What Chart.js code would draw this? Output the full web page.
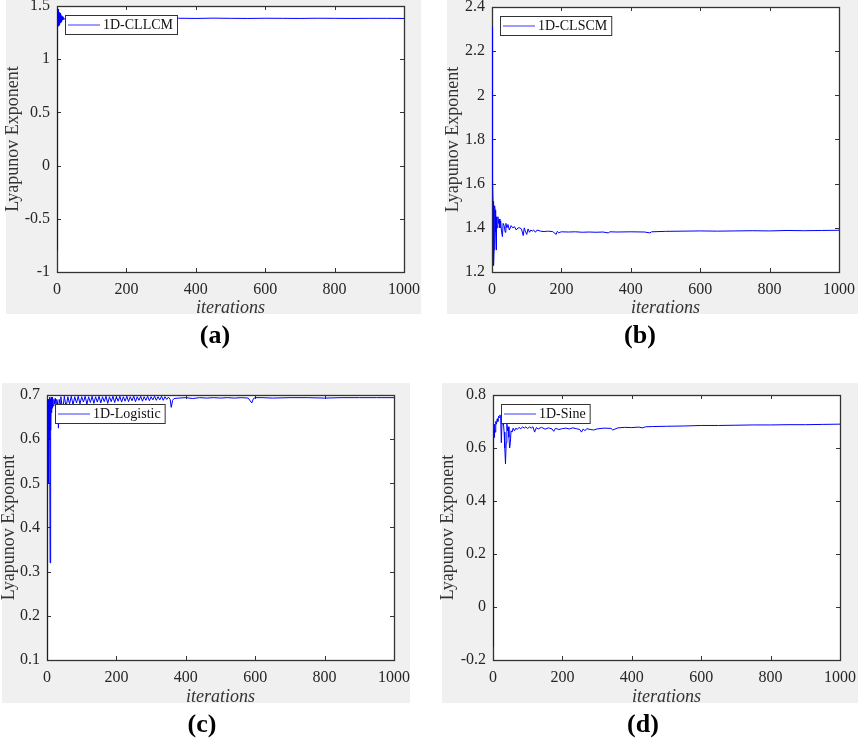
<!DOCTYPE html>
<html>
<head>
<meta charset="utf-8">
<script src="https://cdn.jsdelivr.net/npm/chart.js@4.4.0/dist/chart.umd.min.js"></script>
<style>
  body { margin: 0; background: #fff; width: 858px; height: 740px; position: relative; overflow: hidden; }
  .bg { position: absolute; background: #f0f0f0; }
  canvas { position: absolute; }
  .cap { position: absolute; font: bold 26px 'Liberation Serif', 'Times New Roman', serif; transform: translate(-50%, -50%); color: #000; }
</style>
</head>
<body>
<div class="bg" style="left:6px;top:0;width:415px;height:314px"></div>
<div class="bg" style="left:447px;top:0;width:411px;height:314px"></div>
<div class="bg" style="left:2px;top:383px;width:408px;height:320px"></div>
<div class="bg" style="left:442px;top:383px;width:416px;height:320px"></div>

<canvas id="ca" width="430" height="330" style="left:0;top:0"></canvas>
<canvas id="cb" width="428" height="330" style="left:430px;top:0"></canvas>
<canvas id="cc" width="430" height="330" style="left:0;top:380px"></canvas>
<canvas id="cd" width="428" height="330" style="left:430px;top:380px"></canvas>

<div class="cap" style="left:215px;top:335px">(a)</div>
<div class="cap" style="left:640px;top:335px">(b)</div>
<div class="cap" style="left:202px;top:724px">(c)</div>
<div class="cap" style="left:643px;top:724px">(d)</div>

<script>
// x ticks shared by all four panels
const iterTicks = [0, 200, 400, 600, 800, 1000];

// (a) 1D-CLLCM
const aIter = [0,1,2,3,4,5,6,7,8,9,10,11,12,13,14,15,17,19,22,25,30,40,60,100,200,350,400,450,500,550,600,650,700,750,800,850,900,950,1000];
const aLE = [-0.8,1.48,1.29,1.47,1.31,1.45,1.32,1.44,1.33,1.43,1.34,1.42,1.35,1.41,1.36,1.40,1.37,1.39,1.375,1.385,1.38,1.385,1.38,1.382,1.38,1.385,1.383,1.386,1.384,1.383,1.385,1.384,1.383,1.385,1.384,1.383,1.384,1.384,1.383];
const aTicks = [-1, -0.5, 0, 0.5, 1, 1.5];

// (b) 1D-CLSCM
const bIter = [0,1,2,3,4,5,6,7,8,9,10,11,12,13,15,17,19,21,23,25,27,30,32,35,38,40,43,46,50,55,60,65,70,75,80,85,90,93,96,100,104,108,112,116,120,125,130,140,150,160,175,185,188,192,200,220,240,260,280,300,320,335,340,360,400,440,455,460,500,550,600,650,700,750,800,850,900,950,1000];
const bLE = [2.31,2.0,1.62,1.52,1.25,1.23,1.30,1.35,1.50,1.48,1.42,1.38,1.30,1.45,1.40,1.45,1.42,1.44,1.40,1.43,1.39,1.36,1.42,1.41,1.38,1.42,1.40,1.415,1.39,1.41,1.40,1.405,1.39,1.40,1.40,1.395,1.365,1.40,1.385,1.37,1.395,1.38,1.39,1.385,1.39,1.38,1.39,1.385,1.383,1.385,1.383,1.37,1.384,1.378,1.382,1.381,1.382,1.38,1.381,1.38,1.381,1.377,1.382,1.381,1.382,1.381,1.377,1.382,1.384,1.385,1.386,1.385,1.386,1.387,1.386,1.388,1.387,1.388,1.389];
const bTicks = [1.2, 1.4, 1.6, 1.8, 2, 2.2, 2.4];

// (c) 1D-Logistic
const cIter = [0,1,2,3,4,5,6,7,8,9,10,11,12,13,14,15,16,18,20,22,24,26,28,30,33,35,38,
  40,45,50,55,60,65,70,75,80,85,90,95,100,105,110,115,120,125,130,135,140,145,150,155,160,165,170,175,180,185,190,195,
  200,205,210,215,220,225,230,235,240,245,250,255,260,265,270,275,280,285,290,295,300,305,310,315,320,325,330,335,340,345,350,
  355,358,362,366,380,400,420,440,460,480,500,520,540,560,580,590,595,600,620,650,700,750,800,850,900,950,1000];
const cLE = [0.1,0.69,0.58,0.69,0.5,0.69,0.6,0.695,0.65,0.32,0.69,0.62,0.695,0.66,0.69,0.67,0.695,0.675,0.69,0.68,0.693,0.675,0.69,0.685,0.625,0.69,0.68,
  0.696,0.664,0.697,0.672,0.696,0.68,0.697,0.678,0.696,0.682,0.697,0.68,0.696,0.684,0.697,0.679,0.696,0.683,0.697,0.681,0.696,0.684,0.697,0.682,0.696,0.685,0.697,0.681,0.696,0.685,0.697,0.683,
  0.696,0.686,0.697,0.684,0.696,0.686,0.697,0.685,0.696,0.687,0.697,0.685,0.696,0.688,0.697,0.686,0.696,0.688,0.697,0.687,0.696,0.689,0.697,0.688,0.696,0.689,0.697,0.688,0.696,0.69,0.695,
  0.69,0.672,0.688,0.692,0.693,0.694,0.692,0.694,0.693,0.694,0.693,0.694,0.693,0.694,0.693,0.682,0.692,0.694,0.694,0.693,0.694,0.694,0.693,0.694,0.694,0.694,0.694];
const cTicks = [0.1, 0.2, 0.3, 0.4, 0.5, 0.6, 0.7];

// (d) 1D-Sine
const dIter = [0,1,2,3,4,5,6,8,10,12,14,16,18,20,22,24,26,28,30,32,34,36,38,40,42,44,46,48,50,52,55,58,62,66,70,75,80,85,90,95,100,105,110,115,120,125,130,140,150,160,170,175,180,190,200,210,220,230,240,250,255,260,265,270,280,290,300,320,340,345,360,380,400,420,430,440,460,500,550,600,650,700,750,800,850,900,950,1000];
const dLE = [-0.15,0.58,0.63,0.67,0.64,0.69,0.66,0.70,0.69,0.71,0.70,0.72,0.715,0.725,0.72,0.62,0.70,0.69,0.695,0.66,0.60,0.54,0.62,0.69,0.665,0.68,0.64,0.60,0.62,0.665,0.66,0.675,0.665,0.675,0.67,0.678,0.672,0.68,0.675,0.68,0.673,0.68,0.675,0.68,0.66,0.677,0.672,0.678,0.671,0.676,0.672,0.663,0.674,0.67,0.673,0.675,0.672,0.676,0.673,0.67,0.66,0.672,0.665,0.673,0.67,0.668,0.672,0.675,0.674,0.668,0.676,0.678,0.677,0.679,0.676,0.68,0.681,0.682,0.683,0.685,0.685,0.686,0.687,0.687,0.688,0.688,0.689,0.69];
const dTicks = [-0.2, 0, 0.2, 0.4, 0.6, 0.8];

const FONT = "'Liberation Serif', 'Times New Roman', serif";

// canvas origin, plot rect (page px), axis-title centres
const panels = [
  { id: 'ca', label: '1D-CLLCM',    xs: aIter, ys: aLE, yt: aTicks, org: [0, 0],     plot: [57, 6, 404, 272],   yTitleX: 13,  xTitleY: 308 },
  { id: 'cb', label: '1D-CLSCM',    xs: bIter, ys: bLE, yt: bTicks, org: [430, 0],   plot: [492, 7, 839, 272],  yTitleX: 453, xTitleY: 308 },
  { id: 'cc', label: '1D-Logistic', xs: cIter, ys: cLE, yt: cTicks, org: [0, 380],   plot: [47, 395, 394, 660], yTitleX: 9,   xTitleY: 697 },
  { id: 'cd', label: '1D-Sine',     xs: dIter, ys: dLE, yt: dTicks, org: [430, 380], plot: [493, 395, 840, 660], yTitleX: 448, xTitleY: 697 }
];

const framePlugin = {
  id: 'frame',
  beforeDraw(chart) {
    const { ctx, chartArea: a } = chart;
    ctx.save();
    ctx.fillStyle = '#fff';
    ctx.fillRect(a.left, a.top, a.width, a.height);
    ctx.restore();
  },
  // box + inward ticks under the line, like the source figure
  beforeDatasetsDraw(chart) {
    const { ctx, chartArea: a, scales: { x, y } } = chart;
    ctx.save();
    ctx.strokeStyle = '#333';
    ctx.lineWidth = 1;
    ctx.beginPath();
    x.ticks.forEach(t => {
      const px = Math.round(x.getPixelForValue(t.value)) + 0.5;
      ctx.moveTo(px, a.bottom); ctx.lineTo(px, a.bottom - 4);
      ctx.moveTo(px, a.top); ctx.lineTo(px, a.top + 4);
    });
    y.ticks.forEach(t => {
      const py = Math.round(y.getPixelForValue(t.value)) + 0.5;
      ctx.moveTo(a.left, py); ctx.lineTo(a.left + 4, py);
      ctx.moveTo(a.right, py); ctx.lineTo(a.right - 4, py);
    });
    ctx.stroke();
    ctx.lineWidth = 1.3;
    ctx.strokeRect(a.left + 0.5, a.top + 0.5, a.width, a.height);
    ctx.restore();
  },
  afterDatasetsDraw(chart, args, opts) {
    const { ctx, chartArea: a } = chart;
    ctx.save();
    ctx.font = '14px ' + FONT;
    const tw = ctx.measureText(opts.label).width;
    const bx = Math.round(a.left) + 8, by = Math.round(a.top) + 9, bw = 38 + tw + 4, bh = 19;
    ctx.fillStyle = '#fff';
    ctx.fillRect(bx, by, bw, bh);
    ctx.lineWidth = 1;
    ctx.strokeStyle = '#333';
    ctx.strokeRect(bx + 0.5, by + 0.5, bw, bh);
    ctx.strokeStyle = '#3a3aff';
    ctx.beginPath();
    ctx.moveTo(bx + 3, by + bh / 2 + 0.5);
    ctx.lineTo(bx + 35, by + bh / 2 + 0.5);
    ctx.stroke();
    ctx.fillStyle = '#111';
    ctx.textBaseline = 'middle';
    ctx.fillText(opts.label, bx + 38, by + bh / 2 + 1);
    ctx.restore();
  }
};

panels.forEach(p => {
  const cv = document.getElementById(p.id);
  const [ox, oy] = p.org;
  const [l, t, r, b] = p.plot;
  const yW = l - ox, xH = oy + cv.height - b;
  new Chart(cv, {
    type: 'line',
    data: {
      datasets: [{
        label: p.label,
        data: p.xs.map((v, i) => ({ x: v, y: p.ys[i] })),
        borderColor: '#0000ff',
        borderWidth: 1,
        pointRadius: 0,
        tension: 0,
        fill: false
      }]
    },
    options: {
      responsive: false,
      animation: false,
      events: [],
      layout: { padding: { left: 0, top: t - oy, right: ox + cv.width - r, bottom: 0 } },
      plugins: {
        legend: { display: false },
        tooltip: { enabled: false },
        frame: { label: p.label }
      },
      scales: {
        x: {
          type: 'linear', min: 0, max: 1000,
          afterBuildTicks: s => { s.ticks = iterTicks.map(v => ({ value: v })); },
          afterFit: s => { s.height = xH; s.paddingLeft = 0; s.paddingRight = 0; },
          grid: { display: false, drawTicks: false, tickLength: 0 },
          border: { display: false },
          ticks: { color: '#262626', padding: 8, maxRotation: 0, autoSkip: false, font: { family: FONT, size: 16 }, callback: v => String(v) },
          title: {
            display: true, text: 'iterations', color: '#333',
            font: { family: FONT, size: 18, style: 'italic', lineHeight: 1 },
            padding: { top: 0, bottom: (oy + cv.height - p.xTitleY) - 9 }
          }
        },
        y: {
          type: 'linear', min: p.yt[0], max: p.yt[p.yt.length - 1],
          afterBuildTicks: s => { s.ticks = p.yt.map(v => ({ value: v })); },
          afterFit: s => { s.width = yW; s.paddingTop = 0; s.paddingBottom = 0; },
          grid: { display: false, drawTicks: false, tickLength: 0 },
          border: { display: false },
          ticks: { color: '#262626', padding: 7, autoSkip: false, font: { family: FONT, size: 16 }, callback: v => String(v) },
          title: {
            display: true, text: 'Lyapunov Exponent', color: '#333',
            font: { family: FONT, size: 18, lineHeight: 1 },
            padding: { top: (p.yTitleX - ox) - 9, bottom: 0 }
          }
        }
      }
    },
    plugins: [framePlugin]
  });
});
</script>
</body>
</html>
